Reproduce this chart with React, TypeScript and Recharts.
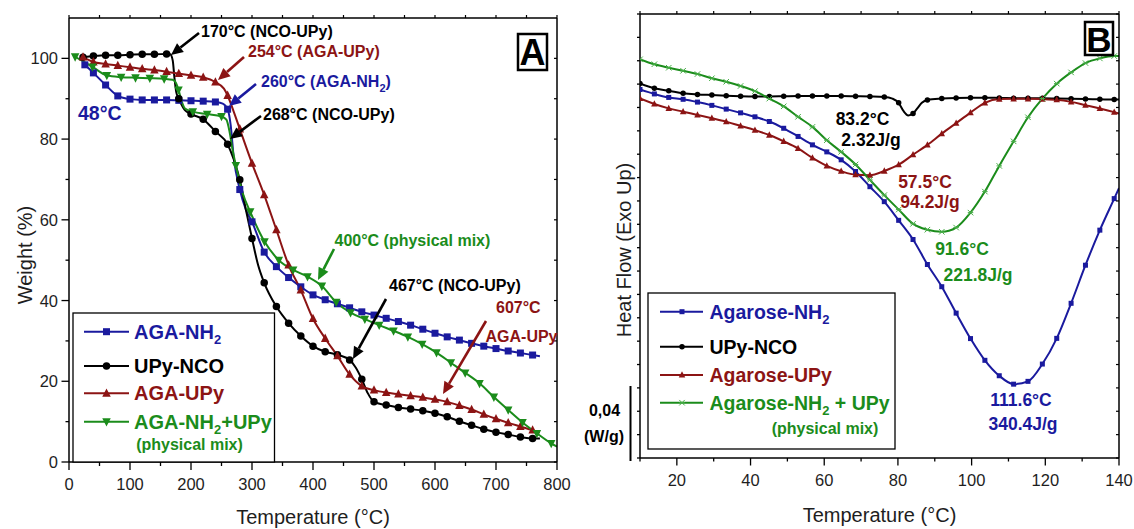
import React from 'react'
import { LineChart, Line, XAxis, YAxis } from 'recharts'

type Pt = [number, number]

// ---- panel A: TGA, temperature (°C) -> weight (%)
const tgaAgaNh2: Pt[] = [
  [26, 98.4], [40, 96.4], [60, 93.4], [80, 90.7], [100, 89.9], [120, 89.7], [140, 89.7], [160, 89.7],
  [180, 89.6], [200, 89.5], [220, 89.4], [240, 89.2], [252, 88.8], [260, 87.4], [265, 83.5], [270, 75.5],
  [280, 67.5], [290, 62.5], [300, 59.5], [320, 52.0], [340, 48.4], [360, 45.7], [380, 43.4], [400, 41.4],
  [420, 40.2], [440, 39.2], [460, 38.2], [480, 37.2], [500, 36.4], [520, 35.6], [540, 34.8], [560, 33.9],
  [580, 32.9], [600, 31.9], [620, 31.0], [640, 30.2], [660, 29.4], [680, 28.7], [700, 28.1], [720, 27.5],
  [740, 27.0], [760, 26.5], [772, 26.2],
]
const tgaUpyNco: Pt[] = [
  [23, 100.3], [40, 100.6], [60, 100.8], [80, 100.8], [100, 100.9], [120, 101.0], [140, 101.0], [160, 101.1],
  [166, 101.0], [170, 99.5], [173, 95.0], [176, 91.5], [180, 90.0], [190, 87.2], [200, 86.2], [220, 84.9],
  [240, 81.9], [260, 78.7], [270, 75.0], [280, 69.9], [290, 62.5], [300, 55.4], [310, 48.8], [320, 44.4],
  [340, 38.5], [360, 34.4], [380, 31.2], [400, 28.7], [420, 27.3], [440, 26.6], [460, 25.3], [470, 23.4],
  [480, 20.5], [490, 17.0], [500, 14.9], [520, 14.1], [540, 13.5], [560, 13.1], [580, 12.7], [600, 12.1],
  [620, 11.2], [640, 10.1], [660, 9.1], [680, 8.1], [700, 7.4], [720, 6.8], [740, 6.2], [760, 5.8], [772, 5.8],
]
const tgaAgaUpy: Pt[] = [
  [23, 100.3], [40, 99.1], [60, 98.6], [80, 98.2], [100, 97.8], [120, 97.4], [140, 97.1], [160, 96.7],
  [180, 96.2], [200, 95.8], [220, 95.3], [240, 94.1], [254, 92.5], [260, 90.8], [270, 86.8], [280, 82.5],
  [300, 74.0], [320, 66.2], [340, 57.5], [360, 48.8], [380, 42.6], [400, 35.5], [420, 30.6], [440, 26.3],
  [460, 21.7], [480, 18.8], [500, 17.8], [520, 17.2], [540, 16.8], [560, 16.4], [580, 16.0], [600, 15.5],
  [620, 14.9], [640, 14.0], [660, 13.0], [680, 11.8], [700, 10.7], [720, 9.7], [740, 8.8], [760, 7.9], [772, 7.3],
]
const tgaMix: Pt[] = [
  [10, 100.4], [38.5, 97.9], [62, 95.8], [85.5, 95.35], [109, 95.2], [132.5, 95.1], [156, 94.95], [170, 94.7],
  [175, 94.0], [179.5, 92.2], [185, 89.2], [190, 87.6], [203, 86.8], [226.5, 86.2], [250, 85.6], [258, 84.8],
  [263, 82.0], [268, 77.5], [273.5, 73.5], [285, 66.5], [297, 62.0], [320.5, 54.6], [344, 50.0], [367.5, 47.6],
  [391, 45.9], [414.5, 43.6], [438, 39.6], [461.5, 37.0], [485, 35.4], [508.5, 33.9], [532, 32.5], [555.5, 31.0],
  [579, 29.2], [602.5, 27.1], [626, 24.6], [649.5, 22.1], [673, 19.5], [696.5, 16.1], [720, 12.9], [743.5, 9.8],
  [767, 7.1], [790.5, 4.6], [800, 3.8],
]
const tgaXLabels = [0, 100, 200, 300, 400, 500, 600, 700, 800]
const tgaXMinor = [50, 150, 250, 350, 450, 550, 650, 750]
const tgaYLabels = [0, 20, 40, 60, 80, 100]
const tgaYMinor = [10, 30, 50, 70, 90]

// ---- panel B: DSC, temperature (°C) -> heat flow (one unit = one left-axis tick)
const dscAgaNh2: Pt[] = [
  [10, 15.77], [13.9, 15.58], [17.8, 15.43], [21.7, 15.35], [25.6, 15.23], [29.5, 15.09], [33.4, 14.93],
  [37.3, 14.77], [41.2, 14.6], [45.1, 14.4], [49, 14.11], [52.9, 13.76], [56.8, 13.4], [60.7, 13.1],
  [64.6, 12.76], [68.5, 12.26], [72.4, 11.61], [76.3, 10.97], [80.2, 10.17], [84.1, 9.35], [88, 8.28],
  [91.9, 7.33], [95.8, 6.2], [99.7, 5.11], [103.6, 4.18], [107.5, 3.52], [111.4, 3.16], [115.3, 3.28],
  [119.2, 4.02], [123.1, 5.12], [127, 6.62], [130.9, 8.25], [134.8, 9.75], [138.7, 11.1], [140, 11.55],
]
const dscUpyNco: Pt[] = [
  [10, 16.03], [13.9, 15.82], [17.8, 15.72], [21.7, 15.61], [25.6, 15.56], [29.5, 15.53], [33.4, 15.5],
  [37.3, 15.48], [41.2, 15.47], [45.1, 15.47], [49, 15.48], [52.9, 15.49], [56.8, 15.49], [60.7, 15.49],
  [64.6, 15.49], [68.5, 15.48], [72.4, 15.47], [76.3, 15.45], [78.5, 15.38], [80.2, 15.2], [81.5, 14.85],
  [82.8, 14.66], [84.1, 14.74], [85.2, 14.95], [86.5, 15.2], [88, 15.32], [91.9, 15.38], [95.8, 15.41],
  [99.7, 15.42], [103.6, 15.42], [107.5, 15.41], [111.4, 15.4], [115.3, 15.39], [119.2, 15.39], [123.1, 15.38],
  [127, 15.37], [130.9, 15.36], [134.8, 15.35], [138.7, 15.34], [140, 15.34],
]
const dscAgaUpy: Pt[] = [
  [10, 15.39], [13.9, 15.15], [17.8, 14.96], [21.7, 14.82], [25.6, 14.68], [29.5, 14.54], [33.4, 14.39],
  [37.3, 14.21], [41.2, 14.03], [45.1, 13.82], [49, 13.55], [52.9, 13.25], [56.8, 12.84], [60.7, 12.5],
  [64.6, 12.27], [68.5, 12.12], [72.4, 12.1], [76.3, 12.28], [80.2, 12.55], [84.1, 12.98], [88, 13.4],
  [91.9, 13.88], [95.8, 14.33], [99.7, 14.78], [103.6, 15.2], [107.5, 15.36], [111.4, 15.37], [115.3, 15.37],
  [119.2, 15.36], [123.1, 15.33], [127, 15.24], [130.9, 15.1], [134.8, 14.96], [138.7, 14.8], [140, 14.74],
]
const dscMix: Pt[] = [
  [10, 17.06], [13.9, 16.85], [17.8, 16.7], [21.7, 16.57], [25.6, 16.43], [29.5, 16.25], [33.4, 16.1],
  [37.3, 15.92], [41.2, 15.7], [45.1, 15.38], [49, 15.05], [52.9, 14.6], [56.8, 14.17], [60.7, 13.6],
  [64.6, 13.1], [68.5, 12.56], [72.4, 11.9], [76.3, 11.25], [80.2, 10.63], [84.1, 10.02], [88, 9.77],
  [91.9, 9.68], [95.8, 9.86], [99.7, 10.5], [103.6, 11.4], [107.5, 12.5], [111.4, 13.55], [115.3, 14.58],
  [119.2, 15.38], [123.1, 16.02], [127, 16.5], [130.9, 16.9], [134.8, 17.1], [138.7, 17.2], [140, 17.2],
]
const dscXLabels = [20, 40, 60, 80, 100, 120, 140]
const dscXMinor = [10, 30, 50, 70, 90, 110, 130]
const dscYTicks = [0, 1, 2, 3, 4, 5, 6, 7, 8, 9, 10, 11, 12, 13, 14, 15, 16, 17, 18, 19]

const FONT = '"Liberation Sans", Arial, Helvetica, sans-serif'
const BLUE = '#1a1a9e'
const RED = '#8c1414'
const GREEN = '#1b8c1b'
const GREEN_LT = '#47ad47'
const TICK_TXT = '#1e1e1e'
const AXIS = { stroke: '#000', strokeWidth: 1.5 }

type Shape = 'square' | 'circle' | 'up' | 'down' | 'star'

function Mark({ shape, cx, cy, s, color }: { shape: Shape; cx: number; cy: number; s: number; color: string }) {
  const h = s / 2
  if (shape === 'square') return <rect x={cx - h} y={cy - h} width={s} height={s} fill={color} />
  if (shape === 'circle') return <circle cx={cx} cy={cy} r={h} fill={color} />
  if (shape === 'up')
    return <polygon points={`${cx},${cy - h * 1.15} ${cx + h},${cy + h * 0.8} ${cx - h},${cy + h * 0.8}`} fill={color} />
  if (shape === 'down')
    return <polygon points={`${cx},${cy + h * 1.15} ${cx + h},${cy - h * 0.8} ${cx - h},${cy - h * 0.8}`} fill={color} />
  return (
    <g stroke={color} strokeWidth={1}>
      <line x1={cx - h} y1={cy - h} x2={cx + h} y2={cy + h} />
      <line x1={cx - h} y1={cy + h} x2={cx + h} y2={cy - h} />
      <line x1={cx - h} y1={cy} x2={cx + h} y2={cy} />
    </g>
  )
}

// marker only on the instrument's sampling grid (t0 + k*step), like Origin does
const dotFor = (shape: Shape, s: number, color: string, t0: number, step: number) => (p: any) => {
  const k = (p.payload.t - t0) / step
  const on = p.index === 0 || Math.abs(k - Math.round(k)) < 0.01
  if (!on || p.cx == null || p.cy == null) return <g key={p.index} />
  return <Mark key={p.index} shape={shape} cx={p.cx} cy={p.cy} s={s} color={color} />
}

const rows = (pts: Pt[]) => pts.map(([t, v]) => ({ t, v }))

const tickBottom = (labels: number[], big: number, small: number) => (p: any) => {
  const v = p.payload.value
  const major = labels.includes(v)
  return (
    <g>
      <line x1={p.x} x2={p.x} y1={p.y} y2={p.y + (major ? big : small)} stroke="#000" strokeWidth={1.3} />
      {major && (
        <text x={p.x} y={p.y + 28} textAnchor="middle" fontSize={16.5} fontFamily={FONT} fill={TICK_TXT}>
          {v}
        </text>
      )}
    </g>
  )
}
const tickLeft = (labels: number[], big: number, small: number) => (p: any) => {
  const v = p.payload.value
  const major = labels.includes(v)
  return (
    <g>
      <line x1={p.x - (major ? big : small)} x2={p.x} y1={p.y} y2={p.y} stroke="#000" strokeWidth={1.3} />
      {major && labels.length > 0 && (
        <text x={p.x - 11} y={p.y + 6} textAnchor="end" fontSize={16.5} fontFamily={FONT} fill={TICK_TXT}>
          {v}
        </text>
      )}
    </g>
  )
}
const tickTop = (len: number) => (p: any) => (
  <line x1={p.x} x2={p.x} y1={p.y - len} y2={p.y} stroke="#000" strokeWidth={1.2} />
)
const tickRight = (len: number) => (p: any) => (
  <line x1={p.x - len} x2={p.x} y1={p.y} y2={p.y} stroke="#000" strokeWidth={1.2} />
)

const tgaSeries = [
  { name: 'AGA-NH2', pts: tgaAgaNh2, color: BLUE, shape: 'square' as Shape, s: 7, t0: 0, step: 20 },
  { name: 'UPy-NCO', pts: tgaUpyNco, color: '#000', shape: 'circle' as Shape, s: 7.5, t0: 0, step: 20 },
  { name: 'AGA-UPy', pts: tgaAgaUpy, color: RED, shape: 'up' as Shape, s: 8.5, t0: 0, step: 20 },
  { name: 'AGA-NH2+UPy', pts: tgaMix, color: GREEN, shape: 'down' as Shape, s: 8.5, t0: 15, step: 23.5 },
]
const dscSeries = [
  { name: 'Agarose-NH2', pts: dscAgaNh2, color: BLUE, mark: BLUE, shape: 'square' as Shape, s: 5 },
  { name: 'UPy-NCO', pts: dscUpyNco, color: '#000', mark: '#000', shape: 'circle' as Shape, s: 5.5 },
  { name: 'Agarose-UPy', pts: dscAgaUpy, color: RED, mark: RED, shape: 'up' as Shape, s: 6.5 },
  { name: 'Agarose-NH2 + UPy', pts: dscMix, color: GREEN, mark: GREEN_LT, shape: 'star' as Shape, s: 5.5 },
]

function TgaChart() {
  const xt = [...tgaXLabels, ...tgaXMinor].sort((a, b) => a - b)
  const yt = [...tgaYLabels, ...tgaYMinor].sort((a, b) => a - b)
  return (
    <LineChart width={600} height={529} margin={{ top: 17, right: 42, bottom: 37, left: 29 }}>
      <XAxis xAxisId="b" dataKey="t" type="number" domain={[0, 800]} ticks={xt} interval={0} allowDataOverflow
        height={30} tickSize={0} tickMargin={0} tickLine={false} axisLine={AXIS} tick={tickBottom(tgaXLabels, 8, 4)} />
      <XAxis xAxisId="t" orientation="top" dataKey="t" type="number" domain={[0, 800]} ticks={xt} interval={0}
        allowDataOverflow height={1} tickSize={0} tickMargin={0} tickLine={false} axisLine={AXIS} tick={tickTop(3)} />
      <YAxis yAxisId="l" type="number" domain={[0, 110]} ticks={yt} interval={0} allowDataOverflow width={40}
        tickSize={0} tickMargin={0} tickLine={false} axisLine={AXIS} tick={tickLeft(tgaYLabels, 7.5, 3.5)} />
      <YAxis yAxisId="r" orientation="right" type="number" domain={[0, 110]} ticks={yt} interval={0} allowDataOverflow
        width={1} tickSize={0} tickMargin={0} tickLine={false} axisLine={AXIS} tick={tickRight(3)} />
      {tgaSeries.map((s) => (
        <Line key={s.name} name={s.name} xAxisId="b" yAxisId="l" data={rows(s.pts)} dataKey="v" type="monotone"
          stroke={s.color} strokeWidth={2} dot={dotFor(s.shape, s.s, s.color, s.t0, s.step)} activeDot={false}
          isAnimationActive={false} />
      ))}
    </LineChart>
  )
}

function DscChart() {
  const xt = [...dscXLabels, ...dscXMinor].sort((a, b) => a - b)
  return (
    <LineChart width={564} height={529} margin={{ top: 13, right: 14, bottom: 41, left: 30 }}>
      <XAxis xAxisId="b" dataKey="t" type="number" domain={[10, 140]} ticks={xt} interval={0} allowDataOverflow
        height={30} tickSize={0} tickMargin={0} tickLine={false} axisLine={AXIS} tick={tickBottom(dscXLabels, 7.5, 3.5)} />
      <XAxis xAxisId="t" orientation="top" dataKey="t" type="number" domain={[10, 140]} ticks={xt} interval={0}
        allowDataOverflow height={1} tickSize={0} tickMargin={0} tickLine={false} axisLine={AXIS} tick={tickTop(3)} />
      <YAxis yAxisId="l" type="number" domain={[0, 19]} ticks={dscYTicks} interval={0} allowDataOverflow width={40}
        tickSize={0} tickMargin={0} tickLine={false} axisLine={AXIS} tick={tickLeft([], 3, 3)} />
      <YAxis yAxisId="r" orientation="right" type="number" domain={[0, 19]} ticks={dscYTicks} interval={0}
        allowDataOverflow width={1} tickSize={0} tickMargin={0} tickLine={false} axisLine={AXIS} tick={tickRight(3)} />
      {dscSeries.map((s) => (
        <Line key={s.name} name={s.name} xAxisId="b" yAxisId="l" data={rows(s.pts)} dataKey="v" type="monotone"
          stroke={s.color} strokeWidth={2} dot={dotFor(s.shape, s.s, s.mark, 10, 3.9)} activeDot={false}
          isAnimationActive={false} />
      ))}
    </LineChart>
  )
}

function Arrow({ from, to, color }: { from: Pt; to: Pt; color: string }) {
  const [x1, y1] = from
  const [x2, y2] = to
  const a = Math.atan2(y2 - y1, x2 - x1)
  const L = 12
  const W = 5.5
  const bx = x2 - L * Math.cos(a)
  const by = y2 - L * Math.sin(a)
  const nx = -Math.sin(a) * W
  const ny = Math.cos(a) * W
  return (
    <g>
      <line x1={x1} y1={y1} x2={bx} y2={by} stroke={color} strokeWidth={2.6} />
      <polygon points={`${x2},${y2} ${bx + nx},${by + ny} ${bx - nx},${by - ny}`} fill={color} />
    </g>
  )
}

function Overlay() {
  const bold = { fontWeight: 'bold' as const }
  const legA = [
    { y: 331.7, color: BLUE, shape: 'square' as Shape, s: 7, label: 'AGA-NH', sub: '2', tail: '' },
    { y: 366, color: '#000', shape: 'circle' as Shape, s: 7.5, label: 'UPy-NCO', sub: '', tail: '' },
    { y: 393.3, color: RED, shape: 'up' as Shape, s: 8.5, label: 'AGA-UPy', sub: '', tail: '' },
    { y: 421.7, color: GREEN, shape: 'down' as Shape, s: 8.5, label: 'AGA-NH', sub: '2', tail: '+UPy' },
  ]
  const legB = [
    { y: 311.7, color: BLUE, mark: BLUE, shape: 'square' as Shape, s: 5, label: 'Agarose-NH', sub: '2', tail: '' },
    { y: 346.7, color: '#000', mark: '#000', shape: 'circle' as Shape, s: 5.5, label: 'UPy-NCO', sub: '', tail: '' },
    { y: 375, color: RED, mark: RED, shape: 'up' as Shape, s: 6.5, label: 'Agarose-UPy', sub: '', tail: '' },
    { y: 402.7, color: GREEN, mark: GREEN_LT, shape: 'star' as Shape, s: 5.5, label: 'Agarose-NH', sub: '2', tail: ' + UPy' },
  ]
  return (
    <svg width={1134} height={529} fontFamily={FONT}
      style={{ position: 'absolute', left: 0, top: 0, pointerEvents: 'none' }}>
      {/* axis titles */}
      <text x={313} y={524} textAnchor="middle" fontSize={20} fill={TICK_TXT}>Temperature (°C)</text>
      <text x={879.5} y={522} textAnchor="middle" fontSize={20} fill={TICK_TXT}>Temperature (°C)</text>
      <text transform="translate(25,255) rotate(-90)" textAnchor="middle" dominantBaseline="central" fontSize={20}
        fill={TICK_TXT}>Weight (%)</text>
      <text transform="translate(624,250) rotate(-90)" textAnchor="middle" dominantBaseline="central" fontSize={20}
        fill={TICK_TXT}>Heat Flow (Exo Up)</text>

      {/* panel letters */}
      <rect x={518} y={34} width={29} height={36} fill="#fff" stroke="#000" strokeWidth={2.5} />
      <text x={532.5} y={65} textAnchor="middle" fontSize={36} {...bold}>A</text>
      <rect x={1085} y={22} width={28} height={33} fill="#fff" stroke="#000" strokeWidth={2.5} />
      <text x={1099} y={51.5} textAnchor="middle" fontSize={35} {...bold}>B</text>

      {/* panel A annotations */}
      <g fontSize={16} {...bold}>
        <text x={201} y={36.7} fill="#000">170°C (NCO-UPy)</text>
        <text x={248} y={57.4} fill={RED}>254°C (AGA-UPy)</text>
        <text x={261} y={87.4} fill={BLUE}>
          260°C (AGA-NH<tspan fontSize={11} dy={5}>2</tspan><tspan dy={-5}>)</tspan>
        </text>
        <text x={263} y={120} fill="#000">268°C (NCO-UPy)</text>
        <text x={334.5} y={246.4} fill={GREEN}>400°C (physical mix)</text>
        <text x={389} y={290.7} fill="#000">467°C (NCO-UPy)</text>
        <text x={496} y={313.4} fill={RED}>607°C</text>
        <text x={485.5} y={342.4} fill={RED}>AGA-UPy</text>
      </g>
      <text x={78} y={120.3} fontSize={19.5} fill={BLUE} {...bold}>48°C</text>
      <Arrow from={[199, 33]} to={[171, 55]} color="#000" />
      <Arrow from={[244, 57]} to={[218, 80]} color={RED} />
      <Arrow from={[256, 84]} to={[229, 106]} color={BLUE} />
      <Arrow from={[261, 116]} to={[230, 139]} color="#000" />
      <Arrow from={[334, 249]} to={[318, 280]} color={GREEN} />
      <Arrow from={[386, 299]} to={[353, 359]} color="#000" />
      <Arrow from={[486, 321]} to={[443, 394]} color={RED} />

      {/* panel B annotations */}
      <g fontSize={17.5} textAnchor="middle" {...bold}>
        <text x={862.5} y={125.3} fill="#000">83.2°C</text>
        <text x={871} y={145.8} fill="#000">2.32J/g</text>
        <text x={925} y={188.3} fill={RED}>57.5°C</text>
        <text x={930} y={208.3} fill={RED}>94.2J/g</text>
        <text x={962} y={254.6} fill={GREEN}>91.6°C</text>
        <text x={978} y={281.3} fill={GREEN}>221.8J/g</text>
        <text x={1021} y={406.3} fill={BLUE}>111.6°C</text>
        <text x={1023} y={429.6} fill={BLUE}>340.4J/g</text>
      </g>

      {/* heat-flow scale bar */}
      <line x1={630.5} x2={630.5} y1={386} y2={461} stroke="#000" strokeWidth={2} />
      <text x={604.5} y={415.7} textAnchor="middle" fontSize={16} {...bold}>0,04</text>
      <text x={604} y={442.4} textAnchor="middle" fontSize={16} {...bold}>(W/g)</text>

      {/* legend A */}
      <rect x={73} y={313} width={201.5} height={149} fill="#fff" stroke="#000" strokeWidth={1.3} />
      {legA.map((d) => (
        <g key={d.y}>
          <line x1={84} x2={129} y1={d.y} y2={d.y} stroke={d.color} strokeWidth={2} />
          <Mark shape={d.shape} cx={106.5} cy={d.y} s={d.s} color={d.color} />
          <text x={134} y={d.y + 7} fontSize={20} fill={d.color} {...bold}>
            {d.label}
            {d.sub && <tspan fontSize={13} dy={5}>{d.sub}</tspan>}
            {d.tail && <tspan dy={-5}>{d.tail}</tspan>}
          </text>
        </g>
      ))}
      <text x={189.5} y={450} textAnchor="middle" fontSize={16} fill={GREEN} {...bold}>(physical mix)</text>

      {/* legend B */}
      <rect x={648} y={293} width={247} height={156} fill="#fff" stroke="#000" strokeWidth={1.3} />
      {legB.map((d) => (
        <g key={d.y}>
          <line x1={660} x2={703} y1={d.y} y2={d.y} stroke={d.color} strokeWidth={2} />
          <Mark shape={d.shape} cx={682} cy={d.y} s={d.s} color={d.mark} />
          <text x={709.5} y={d.y + 7} fontSize={19.5} fill={d.color} {...bold}>
            {d.label}
            {d.sub && <tspan fontSize={13} dy={5}>{d.sub}</tspan>}
            {d.tail && <tspan dy={-5}>{d.tail}</tspan>}
          </text>
        </g>
      ))}
      <text x={825} y={434} textAnchor="middle" fontSize={16} fill={GREEN} {...bold}>(physical mix)</text>
    </svg>
  )
}

export default function App() {
  return (
    <div style={{ position: 'absolute', left: 0, top: 0, width: 1134, height: 529, background: '#fff', fontFamily: FONT }}>
      <div style={{ position: 'absolute', left: 0, top: 0 }}>
        <TgaChart />
      </div>
      <div style={{ position: 'absolute', left: 570, top: 0 }}>
        <DscChart />
      </div>
      <Overlay />
    </div>
  )
}
